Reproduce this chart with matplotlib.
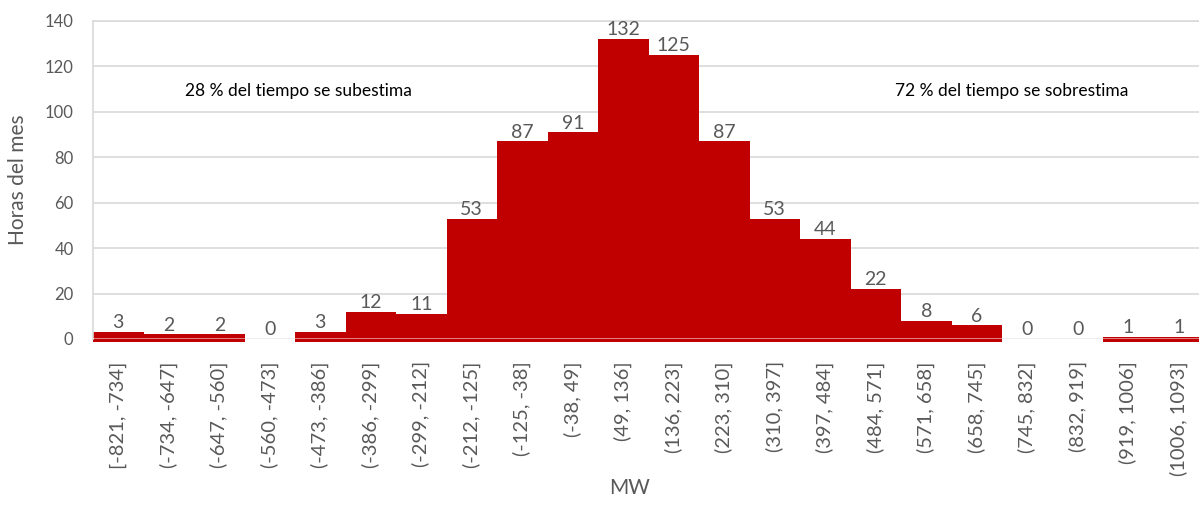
import matplotlib
matplotlib.use("Agg")
import matplotlib.pyplot as plt
import numpy as np

plt.rcParams['font.family'] = ['Lato', 'DejaVu Sans']

# Datos del histograma
intervalos = ['[-821, -734]', '(-734, -647]', '(-647, -560]', '(-560, -473]',
              '(-473, -386]', '(-386, -299]', '(-299, -212]', '(-212, -125]',
              '(-125, -38]', '(-38, 49]', '(49, 136]', '(136, 223]',
              '(223, 310]', '(310, 397]', '(397, 484]', '(484, 571]',
              '(571, 658]', '(658, 745]', '(745, 832]', '(832, 919]',
              '(919, 1006]', '(1006, 1093]']
horas = [3, 2, 2, 0, 3, 12, 11, 53, 87, 91, 132, 125,
         87, 53, 44, 22, 8, 6, 0, 0, 1, 1]

texto_izq = '28 % del tiempo se subestima'
texto_der = '72 % del tiempo se sobrestima'

rojo = '#C00000'
gris = '#595959'
gris_claro = '#D9D9D9'

fig = plt.figure(figsize=(11.99, 5.22), dpi=100)
ax = fig.add_axes([0.0776, 0.3506, 0.9266, 0.6092])

x = np.arange(len(horas))
base = -1.5
ax.bar(x, np.array(horas) + (-base) * (np.array(horas) > 0), width=1.0,
       bottom=base, color=rojo, linewidth=0, zorder=2, clip_on=False)

# ejes / rejilla
ax.set_xlim(-0.5, len(horas) - 0.5)
ax.set_ylim(0, 140)
ax.set_yticks(np.arange(0, 141, 20))
ax.yaxis.grid(True, color=gris_claro, linewidth=1.2, zorder=0)
ax.set_axisbelow(True)
for s in ['right', 'bottom']:
    ax.spines[s].set_visible(False)
for s in ['left', 'top']:
    ax.spines[s].set_color(gris_claro)
    ax.spines[s].set_linewidth(1.2)
ax.axhline(0, color=gris_claro, linewidth=1.2, zorder=1)
ax.axhline(0, color='white', linewidth=1.2, alpha=0.6, zorder=3)

ax.tick_params(axis='both', length=0, colors=gris, labelsize=12)
ax.tick_params(axis='y', pad=14)
ax.set_xticks(x)
ax.set_xticklabels(intervalos, rotation=90, fontsize=14.5, va='top')
ax.tick_params(axis='x', pad=16)

# etiquetas de datos
for xi, h in zip(x, horas):
    ax.text(xi, h + 0.3, str(h), ha='center', va='bottom',
            fontsize=14, color=gris, zorder=4)

ax.text(1.32, 109, texto_izq, ha='left', va='center', fontsize=12.5, color='black')
ax.text(15.38, 109, texto_der, ha='left', va='center', fontsize=12.5, color='black')

ax.set_ylabel('Horas del mes', fontsize=15, color=gris, labelpad=12)
fig.text(630 / 1199, 1 - 488 / 522, 'MW', ha='center', va='center',
         fontsize=15, color=gris)

fig.savefig('out.png', dpi=100)
